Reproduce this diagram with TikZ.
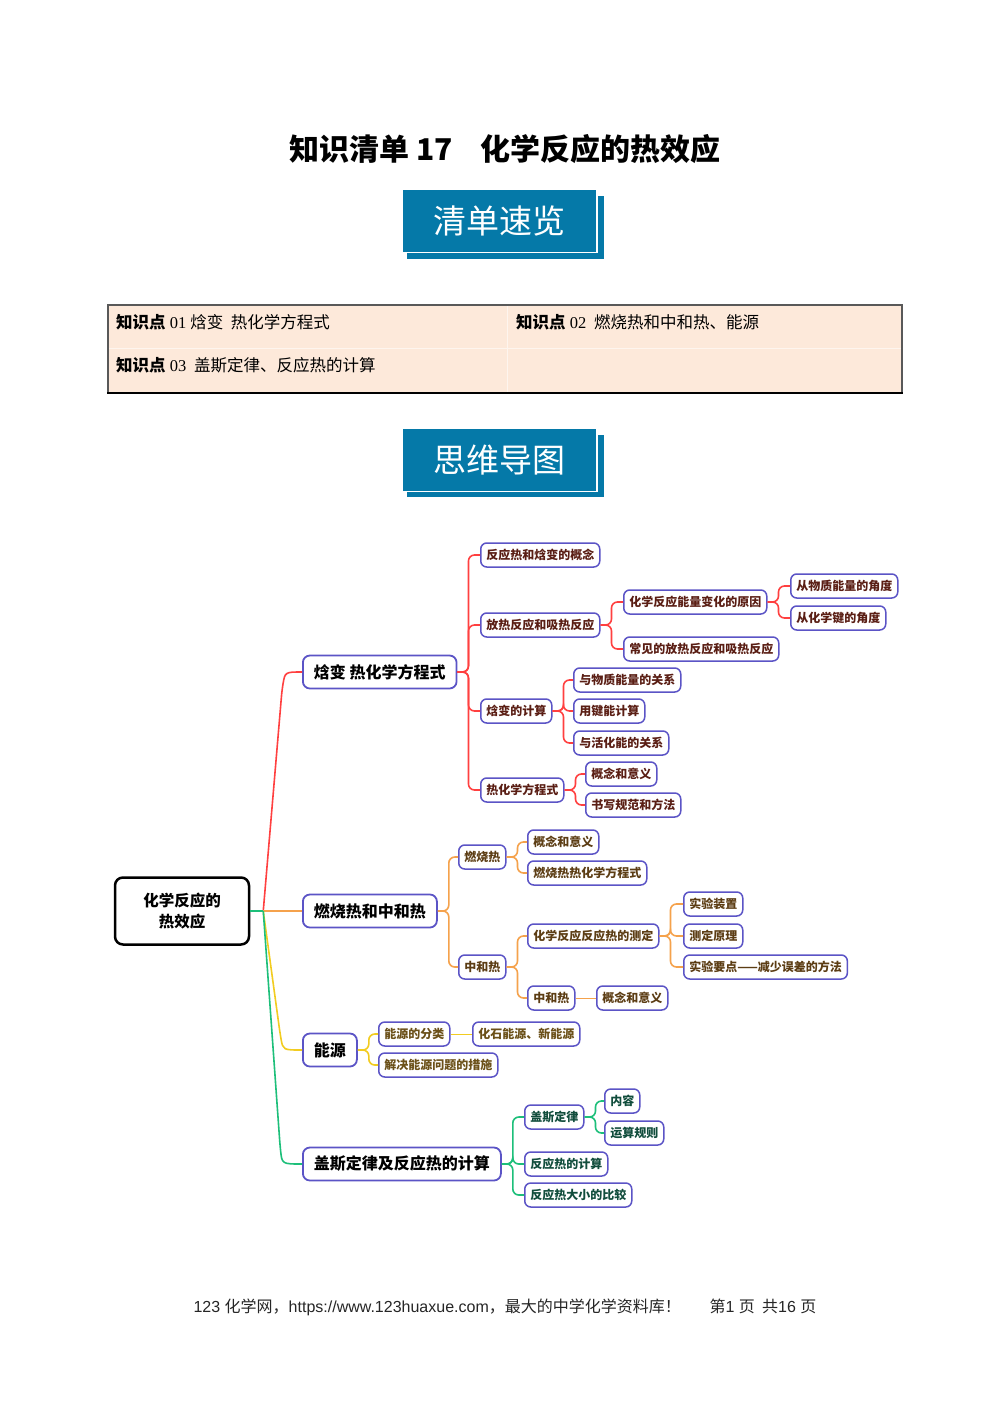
\documentclass[tikz,border=0pt]{standalone}
\usepackage{fontspec}
\setmainfont{Noto Sans CJK SC}
\newfontfamily\lsans{Liberation Sans}
\newfontfamily\lserif{Liberation Serif}
\usetikzlibrary{calc}
\definecolor{bannerc}{HTML}{0579A8}
\definecolor{peach}{HTML}{FDE9DA}
\definecolor{nodeb}{HTML}{5B54C6}
\definecolor{redc}{HTML}{FF4040}
\definecolor{orangec}{HTML}{F5A24C}
\definecolor{yellowc}{HTML}{F2CC20}
\definecolor{greenc}{HTML}{1DBF7A}
\definecolor{ta}{HTML}{5A1E14}
\definecolor{tb}{HTML}{5C3D14}
\definecolor{tc}{HTML}{6B5018}
\definecolor{td}{HTML}{114D3C}
\tikzset{
  rootbox/.style={draw=black, line width=2.5pt, rounded corners=8pt, fill=white,
    minimum width=134pt, minimum height=67pt, align=center,
    font=\bfseries\fontsize{15.5}{21}\selectfont},
  lonebox/.style={draw=nodeb, line width=1.8pt, rounded corners=7pt, fill=white,
    minimum height=33pt, inner xsep=11pt, anchor=west,
    font=\bfseries\fontsize{16}{18}\selectfont},
  ltwobox/.style={draw=nodeb, line width=1.5pt, rounded corners=6pt, fill=white,
    minimum height=24pt, inner xsep=5.5pt, anchor=west,
    font=\bfseries\fontsize{12}{14}\selectfont},
  na/.style={ltwobox, text=ta},
  nb/.style={ltwobox, text=tb},
  nc/.style={ltwobox, text=tc},
  nd/.style={ltwobox, text=td},
  rline/.style={draw=redc, line width=1.6pt, rounded corners=6pt},
  oline/.style={draw=orangec, line width=1.6pt, rounded corners=6pt},
  yline/.style={draw=yellowc, line width=1.6pt, rounded corners=6pt},
  gline/.style={draw=greenc, line width=1.6pt, rounded corners=6pt},
  bannerbox/.style={fill=bannerc, draw=white, line width=1.5pt,
    minimum width=195pt, minimum height=63pt, text=white,
    font=\fontsize{33}{36}\selectfont},
  tabtext/.style={anchor=west, font=\fontsize{16.5}{18}\selectfont, inner sep=0pt},
}
\newcommand\mmlink[3]{\draw[#1] (#2.east) -- ++(11,0) |- (#3.west);}
\begin{document}
\begin{tikzpicture}[x=1pt,y=-1pt]
\useasboundingbox (0,0) rectangle (993,1404);
\fill[white] (0,0) rectangle (993,1404);

% title
\node[font=\bfseries\fontsize{30}{34}\selectfont] (title) at (505,149) {知识清单 17\hspace{0.9em}化学反应的热效应};

% banner 1
\fill[bannerc] (407,196) rectangle (604,259);
\node[bannerbox] (ban1) at (499.5,221) {清单速览};

% table
\fill[peach] (108,305) rectangle (902,393);
\draw[white!55!peach, line width=1pt] (108,348) -- (902,348);
\draw[white!55!peach, line width=1pt] (507,305) -- (507,393);
\draw[line width=2pt, draw=black!65] (108,305) rectangle (902,393);
\draw[line width=2.5pt, draw=black] (107,393) -- (903,393);
\node[tabtext] (k1) at (116,322) {\textbf{知识点}{\lserif\ 01\ }焓变\ \ 热化学方程式};
\node[tabtext] (k2) at (516,322) {\textbf{知识点}{\lserif\ 02\ }\ 燃烧热和中和热、能源};
\node[tabtext] (k3) at (116,365) {\textbf{知识点}{\lserif\ 03\ }\ 盖斯定律、反应热的计算};

% banner 2
\fill[bannerc] (407,435) rectangle (604,497);
\node[bannerbox] (ban2) at (499.5,460) {思维导图};

% mind map nodes
\node[rootbox] (r) at (182,911) {化学反应的\\热效应};
\node[lonebox] (a) at (302,672) {焓变 热化学方程式};
\node[lonebox] (b) at (302,911) {燃烧热和中和热};
\node[lonebox] (c) at (302,1050) {能源};
\node[lonebox] (d) at (302,1164) {盖斯定律及反应热的计算};

\node[na] (a1) at (480,555) {反应热和焓变的概念};
\node[na] (a2) at (480,625) {放热反应和吸热反应};
\node[na] (a3) at (480,711) {焓变的计算};
\node[na] (a4) at (480,790) {热化学方程式};
\node[na] (a21) at (623,602) {化学反应能量变化的原因};
\node[na] (a22) at (623,649) {常见的放热反应和吸热反应};
\node[na] (a211) at (790,586) {从物质能量的角度};
\node[na] (a212) at (790,618) {从化学键的角度};
\node[na] (a31) at (573,680) {与物质能量的关系};
\node[na] (a32) at (573,711) {用键能计算};
\node[na] (a33) at (573,743) {与活化能的关系};
\node[na] (a41) at (585,774) {概念和意义};
\node[na] (a42) at (585,805) {书写规范和方法};

\node[nb] (b1) at (458,857) {燃烧热};
\node[nb] (b2) at (458,967) {中和热};
\node[nb] (b11) at (527,842) {概念和意义};
\node[nb] (b12) at (527,873) {燃烧热热化学方程式};
\node[nb] (b21) at (527,936) {化学反应反应热的测定};
\node[nb] (b22) at (527,998) {中和热};
\node[nb] (b211) at (683,904) {实验装置};
\node[nb] (b212) at (683,936) {测定原理};
\node[nb] (b213) at (683,967) {实验要点——减少误差的方法};
\node[nb] (b221) at (596,998) {概念和意义};

\node[nc] (c1) at (378,1034) {能源的分类};
\node[nc] (c2) at (378,1065) {解决能源问题的措施};
\node[nc] (c11) at (472,1034) {化石能源、新能源};

\node[nd] (d1) at (524,1117) {盖斯定律};
\node[nd] (d2) at (524,1164) {反应热的计算};
\node[nd] (d3) at (524,1195) {反应热大小的比较};
\node[nd] (d11) at (604,1101) {内容};
\node[nd] (d12) at (604,1133) {运算规则};

% root connectors
\coordinate (j) at ($(r.east)+(13,0)$);
\draw[rline] (j) -- ($(a.west)+(-20,18)$) .. controls ($(a.west)+(-17,0)$) .. (a.west);
\draw[oline] (j) -- (b.west);
\draw[yline] (j) -- ($(c.west)+(-22,-17)$) .. controls ($(c.west)+(-19,0)$) .. (c.west);
\draw[gline] (j) -- ($(d.west)+(-22,-19)$) .. controls ($(d.west)+(-20,0)$) .. (d.west);
\draw[gline] (r.east) -- (j);

% branch links
\mmlink{rline}{a}{a1}
\mmlink{rline}{a}{a2}
\mmlink{rline}{a}{a3}
\mmlink{rline}{a}{a4}
\mmlink{rline}{a2}{a21}
\mmlink{rline}{a2}{a22}
\mmlink{rline}{a21}{a211}
\mmlink{rline}{a21}{a212}
\mmlink{rline}{a3}{a31}
\mmlink{rline}{a3}{a32}
\mmlink{rline}{a3}{a33}
\mmlink{rline}{a4}{a41}
\mmlink{rline}{a4}{a42}

\mmlink{oline}{b}{b1}
\mmlink{oline}{b}{b2}
\mmlink{oline}{b1}{b11}
\mmlink{oline}{b1}{b12}
\mmlink{oline}{b2}{b21}
\mmlink{oline}{b2}{b22}
\mmlink{oline}{b21}{b211}
\mmlink{oline}{b21}{b212}
\mmlink{oline}{b21}{b213}
\draw[draw=orangec, line width=1pt] (b22.east) -- (b221.west);

\mmlink{yline}{c}{c1}
\mmlink{yline}{c}{c2}
\draw[draw=yellowc, line width=1pt] (c1.east) -- (c11.west);

\mmlink{gline}{d}{d1}
\mmlink{gline}{d}{d2}
\mmlink{gline}{d}{d3}
\mmlink{gline}{d1}{d11}
\mmlink{gline}{d1}{d12}

% footer
\node[font=\fontsize{16}{18}\selectfont, text=black!85] (foot) at (505,1307)
  {{\lsans 123 }化学网，{\lsans https://www.123huaxue.com}，最大的中学化学资料库！\hspace{1.8em}第{\lsans 1 }页\ \ 共{\lsans 16 }页};
\end{tikzpicture}
\end{document}
